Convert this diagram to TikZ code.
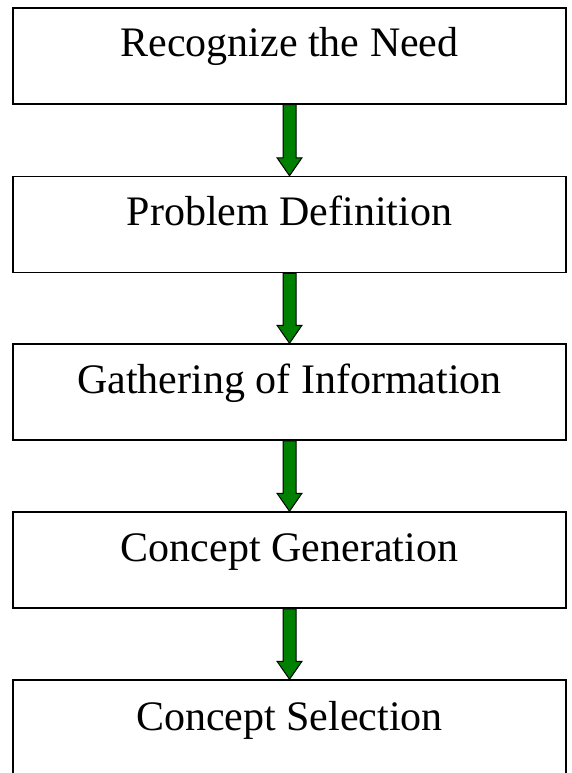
\documentclass[tikz,border=0pt]{standalone}
\usepackage{fontspec}
\setmainfont{Liberation Serif}
\usetikzlibrary{calc}
\definecolor{arrowgreen}{RGB}{0,128,0}
\tikzset{
  stagebox/.style={draw=black, line width=1.5pt, fill=white, rectangle, inner sep=0pt,
    minimum width=553pt, minimum height=96pt},
  lbl/.style={inner sep=0pt, anchor=base, font=\fontsize{42}{50}\selectfont},
  garrow/.style={draw=black, line width=1pt, fill=arrowgreen, line join=miter}
}
\begin{document}
\begin{tikzpicture}[x=1pt,y=-1pt]
\useasboundingbox (0,0) rectangle (572,773);
\clip (0,0) rectangle (572,773);
\node[stagebox] (b1) at (289.5,56) {};
\node[stagebox] (b2) at (289.5,224.5) {};
\node[stagebox] (b3) at (289.5,392) {};
\node[stagebox] (b4) at (289.5,560) {};
\node[stagebox] (b5) at (289.5,728) {};
\node[lbl] (t1) at ($(b1.north)+(0,49)$) {Recognize the Need};
\node[lbl] (t2) at ($(b2.north)+(0,50)$) {Problem Definition};
\node[lbl] (t3) at ($(b3.north)+(0,50)$) {Gathering of Information};
\node[lbl] (t4) at ($(b4.north)+(0,50)$) {Concept Generation};
\node[lbl] (t5) at ($(b5.north)+(0,51)$) {Concept Selection};
\foreach \a/\b in {b1/b2,b2/b3,b3/b4,b4/b5}{
  \draw[garrow] ($(\a.south)+(-6.5,0)$) -- ($(\b.north)+(-6.5,-18)$) -- ($(\b.north)+(-12.5,-18)$)
    -- (\b.north) -- ($(\b.north)+(12.5,-18)$) -- ($(\b.north)+(6.5,-18)$)
    -- ($(\a.south)+(6.5,0)$) -- cycle;
}
\end{tikzpicture}
\end{document}
